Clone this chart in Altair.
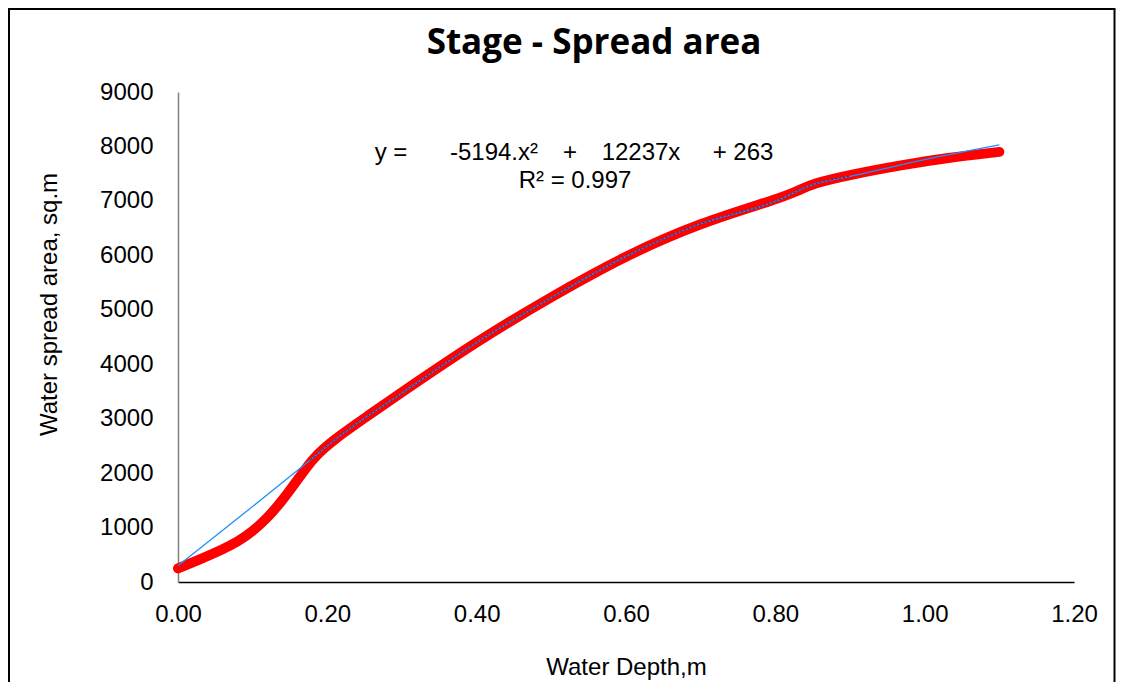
import altair as alt
import pandas as pd

# Observed curve (red, smoothed)
depth = [0.0, 0.03, 0.06, 0.08, 0.10, 0.12, 0.14, 0.163, 0.181, 0.208, 0.253, 0.295,
         0.40, 0.50, 0.60, 0.70, 0.80, 0.83, 0.85, 0.90, 0.97, 1.03, 1.10]
area = [250, 420, 600, 740, 930, 1180, 1500, 1930, 2280, 2610, 3040, 3440,
        4420, 5240, 6000, 6600, 7020, 7180, 7320, 7480, 7660, 7790, 7900]

# Trend line (thin blue)
trend_depth = [0.0, 0.177, 0.208, 0.30, 0.40, 0.50, 0.60, 0.70, 0.80, 0.85, 0.90, 1.00, 1.10]
trend_area = [300, 2240, 2590, 3470, 4400, 5220, 5980, 6580, 6990, 7300, 7450, 7760, 8030]

x_ticks = [0.0, 0.2, 0.4, 0.6, 0.8, 1.0, 1.2]
y_ticks = [0, 1000, 2000, 3000, 4000, 5000, 6000, 7000, 8000, 9000]

title_text = "Stage - Spread area"
eq_parts = ["y =", "-5194.x\u00b2", "+", "12237x", "+ 263"]
eq_line2 = "R\u00b2 = 0.997"

obs = pd.DataFrame({"depth": depth, "area": area})
trend = pd.DataFrame({"depth": trend_depth, "area": trend_area})

W, H = 896, 490
LABEL_FONT = "Liberation Sans"

xscale = alt.Scale(domain=[0, 1.2], nice=False, zero=False)
yscale = alt.Scale(domain=[0, 9000], nice=False)

xaxis = alt.Axis(values=x_ticks, format=".2f", title="Water Depth,m", grid=False,
                 ticks=False, domainColor="#000000", domainWidth=1.5,
                 labelFont=LABEL_FONT, labelFontSize=24, labelColor="#000000",
                 labelPadding=20, labelFlush=False,
                 titleFont=LABEL_FONT, titleFontSize=24, titleFontWeight="normal",
                 titleColor="#000000", titleY=92, titleBaseline="alphabetic")
yaxis = alt.Axis(values=y_ticks, format="d", title="Water spread area, sq.m", grid=False,
                 ticks=False, domainColor="#808080", domainWidth=1.5,
                 labelFont=LABEL_FONT, labelFontSize=24, labelColor="#000000",
                 labelPadding=25,
                 titleFont=LABEL_FONT, titleFontSize=24, titleFontWeight="normal",
                 titleColor="#000000", titleX=-129, titleY=212, titleBaseline="middle",
                 titleAngle=270)

red = alt.Chart(obs).mark_line(color="#ff0000", strokeWidth=10, interpolate="basis",
                               strokeCap="round", strokeJoin="round").encode(
    x=alt.X("depth:Q", scale=xscale, axis=xaxis),
    y=alt.Y("area:Q", scale=yscale, axis=yaxis),
)

blue = alt.Chart(trend).mark_line(color="#1f8fff", strokeWidth=1.3, interpolate="monotone").encode(
    x=alt.X("depth:Q", scale=xscale),
    y=alt.Y("area:Q", scale=yscale),
)

navy = alt.Chart(trend[(trend.depth >= 0.177) & (trend.depth <= 0.95)]).mark_line(
    color="#1a2a7a", strokeWidth=1, strokeDash=[2, 2], interpolate="monotone").encode(
    x=alt.X("depth:Q", scale=xscale),
    y=alt.Y("area:Q", scale=yscale),
)

title_mark = alt.Chart(pd.DataFrame({"t": [title_text]})).mark_text(
    font="Open Sans", fontSize=35, fontWeight="bold", color="#000000",
    align="center", baseline="alphabetic").encode(
    x=alt.value(416), y=alt.value(-38), text="t:N")

eq_x = [213, 316, 392, 463, 565]
eq_layers = []
for part, px in zip(eq_parts, eq_x):
    eq_layers.append(alt.Chart(pd.DataFrame({"t": [part]})).mark_text(
        font=LABEL_FONT, fontSize=24, color="#000000", align="center",
        baseline="middle").encode(x=alt.value(px), y=alt.value(61), text="t:N"))
eq2 = alt.Chart(pd.DataFrame({"t": [eq_line2]})).mark_text(
    font=LABEL_FONT, fontSize=24, color="#000000", align="center", baseline="middle").encode(
    x=alt.value(397), y=alt.value(89), text="t:N")

frame_df = pd.DataFrame({"k": [0]})
frame_left = alt.Chart(frame_df).mark_rule(color="#000000", strokeWidth=2).encode(
    x=alt.value(-169), y=alt.value(-83), y2=alt.value(H + 110))
frame_right = alt.Chart(frame_df).mark_rule(color="#000000", strokeWidth=2).encode(
    x=alt.value(936.5), y=alt.value(-83), y2=alt.value(H + 110))
frame_top = alt.Chart(frame_df).mark_rule(color="#000000", strokeWidth=2).encode(
    x=alt.value(-170), x2=alt.value(937.5), y=alt.value(-83))

chart = alt.layer(red, blue, navy, title_mark, *eq_layers, eq2,
                  frame_left, frame_right, frame_top).properties(
    width=W, height=H,
    background="#ffffff",
    padding={"left": 170, "top": 84, "right": 42, "bottom": 100},
    autosize=alt.AutoSizeParams(type="none"),
).configure_view(stroke=None)

chart.save("out.html", embed_options={"renderer": "svg", "actions": False})
